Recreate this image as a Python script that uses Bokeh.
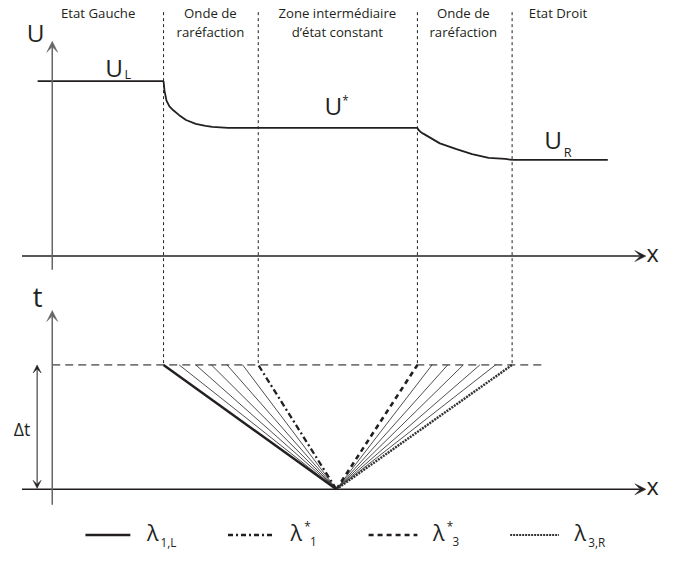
from bokeh.plotting import figure
from bokeh.models import Range1d, Arrow, VeeHead
from bokeh.core.properties import value
from bokeh.embed import file_html
from bokeh.resources import INLINE

FONT = "Open Sans"
INK = "#231f20"

# ---------------- data (schematic units) ----------------
region_titles = [["Etat Gauche"], ["Onde de", "raréfaction"],
                 ["Zone intermédiaire", "d’état constant"],
                 ["Onde de", "raréfaction"], ["Etat Droit"]]
region_centers = [100, 215, 345, 474, 571]

wave_x = [167, 264, 427, 524]       # wave boundaries at t = Δt
x_origin = 344                      # initial discontinuity
x_left_end = 38
x_right_end = 622

U_L = 180
U_star = 132
U_R = 99

rare1_x = [167, 168, 170, 173, 177, 183, 190, 200, 210, 217, 233, 264]
rare1_u = [180, 170, 160, 154, 150, 145, 140, 136, 134, 133, 132, 132]
rare3_x = [427, 428, 430, 433, 450, 467, 483, 500, 517, 524]
rare3_u = [132, 130, 128, 126, 116, 110, 105, 101, 100, 99]

fan1_x = [167, 183, 200, 216, 232, 248, 264]   # 1-rarefaction characteristics at Δt
fan3_x = [427, 442, 458, 474, 491, 507, 524]   # 3-rarefaction characteristics at Δt
dt = 128

legend_names = ["λ", "λ", "λ", "λ"]
legend_sub = ["1,L", "1", "3", "3,R"]
legend_sup = ["", "*", "*", ""]

# ---------------- figure ----------------
W, H = 661, 551
S = W / 677.0
p = figure(width=W, height=H, output_backend="svg", toolbar_location=None,
           x_range=Range1d(0, 677), y_range=Range1d(0, 567),
           x_axis_location=None, y_axis_location=None, min_border=0)
p.grid.visible = False
p.outline_line_color = None
p.background_fill_color = "white"
p.border_fill_color = "white"


def Y(py):
    return 567 - py


Y_top = Y(263)   # U = 0 line
Y_bot = Y(503)   # t = 0 line


def txt(x, py_base, s, size, align="center", color=INK):
    p.text(x=[x], y=[Y(py_base) + 0.35 * size], text=[s], text_font=value(FONT),
           text_font_size=f"{size * S:.1f}px", text_align=align,
           text_baseline="middle", text_color=color)


def arrow(x0, y0, x1, y1, color=INK, width=1.5, size=11, both=False):
    head = VeeHead(size=size, fill_color=color, line_color=color, line_width=0.5)
    start = VeeHead(size=size, fill_color=color, line_color=color, line_width=0.5) if both else None
    p.add_layout(Arrow(x_start=x0, y_start=y0, x_end=x1, y_end=y1,
                       line_color=color, line_width=width, end=head, start=start))


# region titles
for c, lines in zip(region_centers, region_titles):
    for i, s in enumerate(lines):
        txt(c, 18 + 19 * i, s, 13.5)

# dotted separators
for xw in wave_x:
    p.line([xw, xw], [Y(12), Y_bot + dt], line_color=INK, line_width=1, line_dash="3 3")

# ---- top panel: U(x) ----
arrow(22, Y_top, 661, Y_top, color=INK, width=1.5)
arrow(53, Y(277), 53, Y(42), color="#666666", width=1.5)
txt(36, 42, "U", 25)

p.line([x_left_end, wave_x[0]], [Y_top + U_L] * 2, line_color=INK, line_width=1.8)
p.line(rare1_x, [Y_top + u for u in rare1_u], line_color=INK, line_width=1.8)
p.line([wave_x[1], wave_x[2]], [Y_top + U_star] * 2, line_color=INK, line_width=1.8)
p.line(rare3_x, [Y_top + u for u in rare3_u], line_color=INK, line_width=1.8)
p.line([wave_x[3], x_right_end], [Y_top + U_R] * 2, line_color=INK, line_width=1.8)

txt(116.5, 78, "U", 25)
txt(127, 80, "L", 13, align="left")
txt(341, 117, "U", 25)
txt(350, 107, "*", 12, align="left")
txt(566, 152, "U", 25)
txt(577, 160, "R", 13, align="left")
txt(668, 268, "x", 24)

# ---- bottom panel: t(x) ----
arrow(22, Y_bot, 661, Y_bot, color=INK, width=1.5)
arrow(53, Y(519), 53, Y(319), color="#666666", width=1.5)
txt(38, 314, "t", 28)
txt(668, 508, "x", 24)

arrow(37.5, Y_bot + 1, 37.5, Y_bot + dt, color=INK, width=1, size=8, both=True)
txt(22, 447, "Δt", 18)

p.line([53, 555], [Y_bot + dt] * 2, line_color="#777777", line_width=1.6, line_dash="8 5")

for xs in fan1_x[1:-1] + fan3_x[1:-1]:
    p.line([x_origin, xs], [Y_bot, Y_bot + dt], line_color=INK, line_width=0.8)

p.line([x_origin, fan1_x[0]], [Y_bot, Y_bot + dt], line_color=INK, line_width=2.4)
p.line([x_origin, fan1_x[-1]], [Y_bot, Y_bot + dt], line_color=INK, line_width=2.3, line_dash="6 3 2 3")
p.line([x_origin, fan3_x[0]], [Y_bot, Y_bot + dt], line_color=INK, line_width=2.6, line_dash="5 4")
p.line([x_origin, fan3_x[-1]], [Y_bot, Y_bot + dt], line_color="#333333", line_width=2.4, line_dash="2 1")

# ---- legend ----
leg_line_x = [(87, 133), (233, 281), (377, 427), (522, 572)]
leg_styles = [dict(line_width=2.4, line_dash="solid", line_color=INK),
              dict(line_width=2.4, line_dash="5 3 2 3", line_color=INK),
              dict(line_width=2.4, line_dash="5 4", line_color=INK),
              dict(line_width=2.2, line_dash="2 1", line_color="#333333")]
leg_lambda_x = [150, 297, 443, 588]
ly = Y(550)
for (a, b), st, lx, nm, sb, sp in zip(leg_line_x, leg_styles, leg_lambda_x,
                                      legend_names, legend_sub, legend_sup):
    p.line([a, b], [ly, ly], **st)
    txt(lx, 555, nm, 22, align="left")
    if sp:
        txt(lx + 14, 545, sp, 12, align="left")
        txt(lx + 20, 561, sb, 12, align="left")
    else:
        txt(lx + 14, 561, sb, 12, align="left")

open("out.html", "w").write(file_html(p, INLINE))
